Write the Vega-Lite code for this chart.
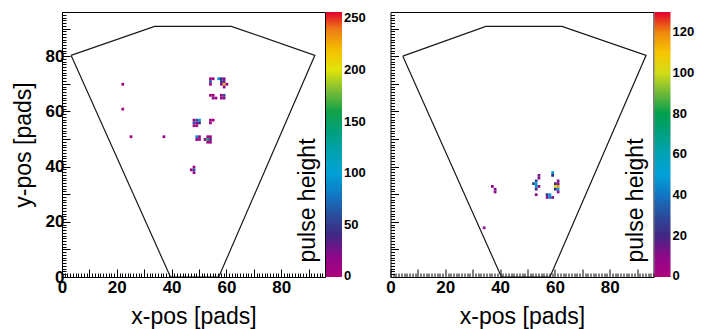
{
  "$schema": "https://vega.github.io/schema/vega-lite/v6.json",
  "background": "white",
  "padding": {"left": 11, "top": 2, "right": 0, "bottom": 0},
  "spacing": 17.5,
  "config": {
    "view": {"stroke": "black", "strokeWidth": 1},
    "font": "Liberation Sans",
    "axis": {
      "domain": false, "grid": false, "tickColor": "black", "tickWidth": 1,
      "labelFont": "Liberation Sans", "labelFontSize": 17, "labelFontWeight": "bold", "labelColor": "black",
      "titleFont": "Liberation Sans", "titleFontSize": 23, "titleFontWeight": "normal", "titleColor": "black",
      "labelOverlap": false, "labelFlush": false
    },
    "legend": {
      "orient": "none", "legendX": 264, "legendY": 0, "direction": "vertical",
      "gradientLength": 265, "gradientThickness": 16, "gradientStrokeWidth": 0,
      "labelFont": "Liberation Sans", "labelFontSize": 13, "labelFontWeight": "bold", "labelColor": "black", "labelOffset": 2
    }
  },
  "datasets": {
    "leftFrame": [
      {"k": 0, "x": 3.3, "y": 80.3}, {"k": 1, "x": 33.8, "y": 90.8}, {"k": 2, "x": 61.8, "y": 90.8},
      {"k": 3, "x": 92.3, "y": 80.3}, {"k": 4, "x": 57.2, "y": 0}, {"k": 5, "x": 39.6, "y": 0}, {"k": 6, "x": 3.3, "y": 80.3}
    ],
    "rightFrame": [
      {"k": 0, "x": 4.5, "y": 80.0}, {"k": 1, "x": 34.8, "y": 90.8}, {"k": 2, "x": 62.6, "y": 90.8},
      {"k": 3, "x": 93.3, "y": 80.3}, {"k": 4, "x": 58.2, "y": 0}, {"k": 5, "x": 40.5, "y": 0}, {"k": 6, "x": 4.5, "y": 80.0}
    ],
    "leftCells": [
      {"x": 21.5, "y": 69.5, "v": 8}, {"x": 21.5, "y": 60.5, "v": 6}, {"x": 24.5, "y": 50.5, "v": 7}, {"x": 36.5, "y": 50.5, "v": 8},
      {"x": 53.5, "y": 71.5, "v": 6}, {"x": 54.5, "y": 71.5, "v": 10}, {"x": 56.5, "y": 71.5, "v": 85}, {"x": 57.5, "y": 71.5, "v": 40}, {"x": 58.5, "y": 71.5, "v": 22},
      {"x": 53.5, "y": 70.5, "v": 65}, {"x": 57.5, "y": 70.5, "v": 45}, {"x": 58.5, "y": 70.5, "v": 30},
      {"x": 53.5, "y": 69.5, "v": 5}, {"x": 57.5, "y": 69.5, "v": 20}, {"x": 58.5, "y": 69.5, "v": 228}, {"x": 59.5, "y": 69.5, "v": 8},
      {"x": 58.5, "y": 68.5, "v": 20},
      {"x": 53.5, "y": 65.5, "v": 8}, {"x": 54.5, "y": 65.5, "v": 6}, {"x": 57.5, "y": 65.5, "v": 7}, {"x": 58.5, "y": 65.5, "v": 62},
      {"x": 54.5, "y": 64.5, "v": 22}, {"x": 55.5, "y": 64.5, "v": 6}, {"x": 57.5, "y": 64.5, "v": 8}, {"x": 58.5, "y": 64.5, "v": 20},
      {"x": 47.5, "y": 56.5, "v": 8}, {"x": 48.5, "y": 56.5, "v": 60}, {"x": 49.5, "y": 56.5, "v": 88}, {"x": 53.5, "y": 56.5, "v": 8}, {"x": 54.5, "y": 56.5, "v": 6},
      {"x": 47.5, "y": 55.5, "v": 55}, {"x": 48.5, "y": 55.5, "v": 20}, {"x": 49.5, "y": 55.5, "v": 40}, {"x": 53.5, "y": 55.5, "v": 7},
      {"x": 47.5, "y": 54.5, "v": 6}, {"x": 48.5, "y": 54.5, "v": 8},
      {"x": 48.5, "y": 50.5, "v": 85}, {"x": 49.5, "y": 50.5, "v": 20}, {"x": 52.5, "y": 50.5, "v": 7}, {"x": 53.5, "y": 50.5, "v": 6},
      {"x": 48.5, "y": 49.5, "v": 18}, {"x": 49.5, "y": 49.5, "v": 8}, {"x": 51.5, "y": 49.5, "v": 20}, {"x": 52.5, "y": 49.5, "v": 150}, {"x": 53.5, "y": 49.5, "v": 38},
      {"x": 52.5, "y": 48.5, "v": 6}, {"x": 53.5, "y": 48.5, "v": 8},
      {"x": 47.5, "y": 39.5, "v": 6}, {"x": 46.5, "y": 38.5, "v": 8}, {"x": 47.5, "y": 38.5, "v": 60}, {"x": 47.5, "y": 37.5, "v": 6}
    ],
    "rightCells": [
      {"x": 36.5, "y": 32.5, "v": 10}, {"x": 37.5, "y": 31.5, "v": 12}, {"x": 37.5, "y": 30.5, "v": 10}, {"x": 33.5, "y": 17.5, "v": 10},
      {"x": 53.5, "y": 36.5, "v": 14}, {"x": 53.5, "y": 35.5, "v": 12},
      {"x": 58.5, "y": 37.5, "v": 45}, {"x": 58.5, "y": 36.5, "v": 22},
      {"x": 52.5, "y": 34.5, "v": 28}, {"x": 51.5, "y": 33.5, "v": 28}, {"x": 52.5, "y": 33.5, "v": 55}, {"x": 52.5, "y": 32.5, "v": 45},
      {"x": 53.5, "y": 32.5, "v": 10}, {"x": 52.5, "y": 31.5, "v": 20}, {"x": 52.5, "y": 29.5, "v": 10},
      {"x": 60.5, "y": 34.5, "v": 12}, {"x": 59.5, "y": 33.5, "v": 20}, {"x": 60.5, "y": 33.5, "v": 12}, {"x": 59.5, "y": 32.5, "v": 100},
      {"x": 60.5, "y": 32.5, "v": 118}, {"x": 59.5, "y": 31.5, "v": 22}, {"x": 60.5, "y": 31.5, "v": 45}, {"x": 60.5, "y": 30.5, "v": 10},
      {"x": 56.5, "y": 29.5, "v": 22}, {"x": 57.5, "y": 29.5, "v": 45}, {"x": 56.5, "y": 28.5, "v": 10}, {"x": 57.5, "y": 28.5, "v": 42}, {"x": 58.5, "y": 28.5, "v": 12}
    ]
  },
  "resolve": {"scale": {"color": "independent", "x": "independent", "y": "independent"}, "legend": {"color": "independent"}},
  "hconcat": [
    {
      "width": 263, "height": 265,
      "resolve": {"axis": {"y": "independent"}},
      "layer": [
        {
          "data": {"name": "leftFrame"},
          "mark": {"type": "line", "color": "#1a1a1a", "strokeWidth": 1.2, "clip": true},
          "encoding": {
            "x": {"field": "x", "type": "quantitative", "scale": {"domain": [0, 96], "nice": false, "zero": false},
              "axis": {"title": "x-pos [pads]", "tickCount": 48, "labelExpr": "datum.value % 20 === 0 ? datum.label : ''",
                "tickSize": {"condition": {"test": "datum.value % 10 === 0", "value": -8}, "value": -4}, "labelPadding": 10, "titlePadding": 6}},
            "y": {"field": "y", "type": "quantitative", "scale": {"domain": [0, 96], "nice": false, "zero": false},
              "axis": {"title": "y-pos [pads]", "tickCount": 48, "labelExpr": "datum.value % 20 === 0 ? datum.label : ''",
                "tickSize": {"condition": {"test": "datum.value % 10 === 0", "value": -8}, "value": -4}, "labelPadding": 6, "titlePadding": 10}},
            "order": {"field": "k", "type": "quantitative"}
          }
        },
        {
          "data": {"name": "leftCells"},
          "mark": {"type": "rect"},
          "encoding": {
            "x": {"field": "x", "type": "quantitative", "bin": {"binned": true, "step": 1}, "scale": {"domain": [0, 96], "nice": false, "zero": false}},
            "y": {"field": "y", "type": "quantitative", "bin": {"binned": true, "step": 1}, "scale": {"domain": [0, 96], "nice": false, "zero": false},
              "axis": {"orient": "right", "title": "pulse height", "labels": false, "ticks": false, "domain": false,
                "titleAngle": 270, "titleAlign": "left", "titleBaseline": "alphabetic", "titleAnchor": null, "titleX": -11, "titleY": 250}},
            "color": {"field": "v", "type": "quantitative",
              "scale": {"domain": [-0.5, 20.5, 33.3, 43.5, 58.9, 76.8, 92.2, 110, 125.4, 143.4, 158.7, 174.1, 186.9, 202.2, 217.6, 230.4, 243.2, 256],
                "range": ["#b0007e", "#8a0a8a", "#5c1a86", "#2f2c82", "#2a4c9c", "#1570bf", "#00a0e3", "#00a2c6", "#00a2a4", "#009e72", "#00a048", "#5cb23e", "#a6c82c", "#ece800", "#f6c400", "#f2a000", "#ea6a1c", "#e2002c"]},
              "legend": {"title": null, "values": [0, 50, 100, 150, 200, 250]}}
          }
        }
      ]
    },
    {
      "width": 263, "height": 265,
      "resolve": {"axis": {"y": "independent"}},
      "layer": [
        {
          "data": {"name": "rightFrame"},
          "mark": {"type": "line", "color": "#1a1a1a", "strokeWidth": 1.2, "clip": true},
          "encoding": {
            "x": {"field": "x", "type": "quantitative", "scale": {"domain": [0, 96], "nice": false, "zero": false},
              "axis": {"title": "x-pos [pads]", "tickCount": 48, "labelExpr": "datum.value % 20 === 0 ? datum.label : ''",
                "tickSize": {"condition": {"test": "datum.value % 10 === 0", "value": -8}, "value": -4}, "labelPadding": 10, "titlePadding": 6}},
            "y": {"field": "y", "type": "quantitative", "scale": {"domain": [0, 96], "nice": false, "zero": false},
              "axis": {"title": null, "labels": false, "tickCount": 48,
                "tickSize": {"condition": {"test": "datum.value % 10 === 0", "value": -8}, "value": -4}}},
            "order": {"field": "k", "type": "quantitative"}
          }
        },
        {
          "data": {"name": "rightCells"},
          "mark": {"type": "rect"},
          "encoding": {
            "x": {"field": "x", "type": "quantitative", "bin": {"binned": true, "step": 1}, "scale": {"domain": [0, 96], "nice": false, "zero": false}},
            "y": {"field": "y", "type": "quantitative", "bin": {"binned": true, "step": 1}, "scale": {"domain": [0, 96], "nice": false, "zero": false},
              "axis": {"orient": "right", "title": "pulse height", "labels": false, "ticks": false, "domain": false,
                "titleAngle": 270, "titleAlign": "left", "titleBaseline": "alphabetic", "titleAnchor": null, "titleX": -11, "titleY": 250}},
            "color": {"field": "v", "type": "quantitative",
              "scale": {"domain": [-0.3, 10.4, 16.9, 22.1, 29.9, 39, 46.8, 55.9, 63.7, 72.8, 80.6, 88.4, 94.9, 102.7, 110.5, 117, 123.5, 130],
                "range": ["#b0007e", "#8a0a8a", "#5c1a86", "#2f2c82", "#2a4c9c", "#1570bf", "#00a0e3", "#00a2c6", "#00a2a4", "#009e72", "#00a048", "#5cb23e", "#a6c82c", "#ece800", "#f6c400", "#f2a000", "#ea6a1c", "#e2002c"]},
              "legend": {"title": null, "values": [0, 20, 40, 60, 80, 100, 120]}}
          }
        }
      ]
    }
  ]
}
